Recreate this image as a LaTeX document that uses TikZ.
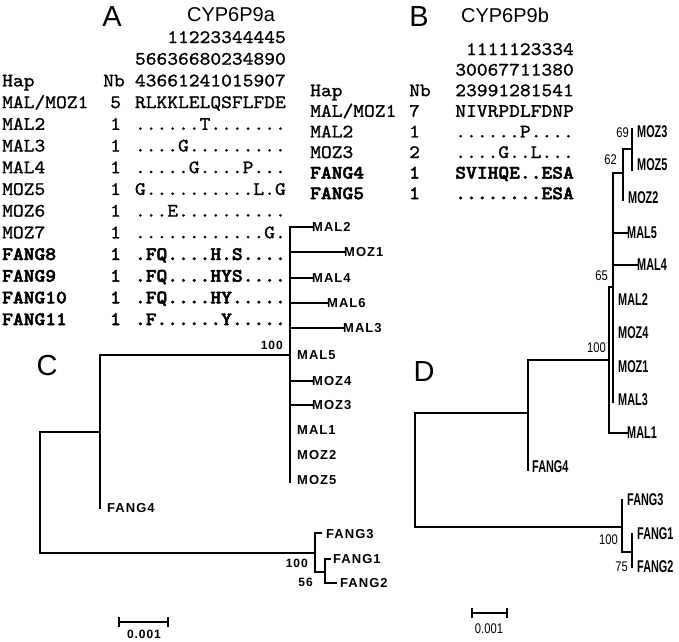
\documentclass[tikz,border=0pt]{standalone}
\usepackage{fontspec}
\setmainfont{Liberation Sans}
\newfontfamily\monof{lmmono10-regular.otf}[FakeStretch=1.08, UprightFeatures={FakeBold=1.1}, BoldFont=lmmonolt10-bold.otf, BoldFeatures={FakeBold=2.4}]
\newfontfamily\cfont[LetterSpace=8]{Liberation Sans}
\newfontfamily\dfont[FakeStretch=0.64]{Liberation Sans}
\newfontfamily\dnumfont[FakeStretch=0.8]{Liberation Sans}
\begin{document}
\begin{tikzpicture}[x=1pt,y=-1pt,
  seq/.style={font=\monof\fontsize{19}{19}\selectfont, anchor=base west, inner sep=0pt},
  seqr/.style={seq, anchor=base east},
  bseq/.style={seq, font=\monof\bfseries\fontsize{19}{19}\selectfont},
  bseqr/.style={bseq, anchor=base east},
  ttl/.style={font=\fontsize{29}{29}\selectfont, inner sep=0pt},
  gene/.style={font=\fontsize{20}{20}\selectfont, inner sep=0pt},
  cleaf/.style={font=\cfont\bfseries\fontsize{13}{13}\selectfont, anchor=west, inner sep=0pt},
  cboot/.style={font=\cfont\bfseries\fontsize{12}{12}\selectfont, anchor=east, inner sep=0pt},
  dleaf/.style={font=\dfont\bfseries\fontsize{17}{17}\selectfont, anchor=west, inner sep=0pt},
  dboot/.style={font=\dnumfont\fontsize{14}{14}\selectfont, anchor=east, inner sep=0pt},
  scl/.style={font=\dnumfont\fontsize{14}{14}\selectfont, inner sep=0pt},
  ctree/.style={line width=1.7pt, line cap=rect},
  dtree/.style={line width=1.4pt, line cap=rect},
  scalebar/.style={line width=1.4pt}
]
\useasboundingbox (0,0) rectangle (679,641);
\fill[white] (0,0) rectangle (679,641);

% ---------- Panel A ----------
\node[ttl] (tA) at (112,17) {A};
\node[gene] (gA) at (231,15) {CYP6P9a};
\node[seqr] (a0) at (286,43) {11223344445};
\node[seqr] (a1) at (286,64.7) {56636680234890};
\node[seq]  (h2) at (2,86.4) {Hap};
\node[seq]  (n2) at (103,86.4) {Nb};
\node[seqr] (a2) at (286,86.4) {43661241015907};
\node[seq]  (h3) at (2,108.1) {MAL/MOZ1};
\node[seq]  (n3) at (110,108.1) {5};
\node[seqr] (a3) at (286,108.1) {RLKKLELQSFLFDE};
\node[seq]  (h4) at (2,129.8) {MAL2};
\node[seq]  (n4) at (110,129.8) {1};
\node[seqr] (a4) at (286,129.8) {......T.......};
\node[seq]  (h5) at (2,151.5) {MAL3};
\node[seq]  (n5) at (110,151.5) {1};
\node[seqr] (a5) at (286,151.5) {....G.........};
\node[seq]  (h6) at (2,173.2) {MAL4};
\node[seq]  (n6) at (110,173.2) {1};
\node[seqr] (a6) at (286,173.2) {.....G....P...};
\node[seq]  (h7) at (2,194.9) {MOZ5};
\node[seq]  (n7) at (110,194.9) {1};
\node[seqr] (a7) at (286,194.9) {G..........L.G};
\node[seq]  (h8) at (2,216.6) {MOZ6};
\node[seq]  (n8) at (110,216.6) {1};
\node[seqr] (a8) at (286,216.6) {...E..........};
\node[seq]  (h9) at (2,238.3) {MOZ7};
\node[seq]  (n9) at (110,238.3) {1};
\node[seqr] (a9) at (286,238.3) {............G.};
\node[bseq]  (h10) at (2,260) {FANG8};
\node[bseq]  (n10) at (110,260) {1};
\node[bseqr] (a10) at (286,260) {.FQ....H.S....};
\node[bseq]  (h11) at (2,281.7) {FANG9};
\node[bseq]  (n11) at (110,281.7) {1};
\node[bseqr] (a11) at (286,281.7) {.FQ....HYS....};
\node[bseq]  (h12) at (2,303.4) {FANG10};
\node[bseq]  (n12) at (110,303.4) {1};
\node[bseqr] (a12) at (286,303.4) {.FQ....HY.....};
\node[bseq]  (h13) at (2,325.1) {FANG11};
\node[bseq]  (n13) at (110,325.1) {1};
\node[bseqr] (a13) at (286,325.1) {.F......Y.....};

% ---------- Panel B ----------
\node[ttl] (tB) at (419,17) {B};
\node[gene] (gB) at (505,15) {CYP6P9b};
\node[seqr] (b0) at (574,55) {1111123334};
\node[seqr] (b1) at (574,75.6) {30067711380};
\node[seq]  (bh2) at (310,96.2) {Hap};
\node[seq]  (bn2) at (409,96.2) {Nb};
\node[seqr] (b2) at (574,96.2) {23991281541};
\node[seq]  (bh3) at (310,116.8) {MAL/MOZ1};
\node[seq]  (bn3) at (409,116.8) {7};
\node[seqr] (b3) at (574,116.8) {NIVRPDLFDNP};
\node[seq]  (bh4) at (310,137.4) {MAL2};
\node[seq]  (bn4) at (409,137.4) {1};
\node[seqr] (b4) at (574,137.4) {......P....};
\node[seq]  (bh5) at (310,158) {MOZ3};
\node[seq]  (bn5) at (409,158) {2};
\node[seqr] (b5) at (574,158) {....G..L...};
\node[bseq]  (bh6) at (310,178.6) {FANG4};
\node[bseq]  (bn6) at (409,178.6) {1};
\node[bseqr] (b6) at (574,178.6) {SVIHQE..ESA};
\node[bseq]  (bh7) at (310,199.2) {FANG5};
\node[bseq]  (bn7) at (409,199.2) {1};
\node[bseqr] (b7) at (574,199.2) {........ESA};

% ---------- Panel C tree ----------
\node[ttl] (tC) at (47,366) {C};
\coordinate (cR) at (40,432);
\coordinate (cRb) at (40,553);
\coordinate (cA) at (100,432);
\coordinate (cAt) at (100,355);
\coordinate (cAb) at (100,508);
\coordinate (cM) at (290,355);
\coordinate (cMt) at (290,227);
\coordinate (cMb) at (290,482);
\coordinate (cF) at (315,553);
\coordinate (cFt) at (315,533);
\coordinate (cFb) at (315,572);
\coordinate (cG) at (325,572);
\coordinate (cGt) at (325,559);
\coordinate (cGb) at (325,583);

\node[cleaf] (cl1) at (312,227) {MAL2};
\node[cleaf] (cl2) at (344,252) {MOZ1};
\node[cleaf] (cl3) at (312,278) {MAL4};
\node[cleaf] (cl4) at (327,303) {MAL6};
\node[cleaf] (cl5) at (343,328) {MAL3};
\node[cleaf] (cl6) at (297,355) {MAL5};
\node[cleaf] (cl7) at (312,381) {MOZ4};
\node[cleaf] (cl8) at (312,405) {MOZ3};
\node[cleaf] (cl9) at (297,430) {MAL1};
\node[cleaf] (cl10) at (297,455) {MOZ2};
\node[cleaf] (cl11) at (297,480) {MOZ5};
\node[cleaf] (cl12) at (107,508) {FANG4};
\node[cleaf] (cl13) at (326,534) {FANG3};
\node[cleaf] (cl14) at (333,559) {FANG1};
\node[cleaf] (cl15) at (340,583) {FANG2};

\draw[ctree] (cRb) -- (cR) -- (cA);
\draw[ctree] (cAt) -- (cAb);
\draw[ctree] (cAt) -- (cM);
\draw[ctree] (cMt) -- (cMb);
\draw[ctree] (cMt) -- (cl1.west);
\draw[ctree] (290,252) -- (cl2.west);
\draw[ctree] (290,278) -- (cl3.west);
\draw[ctree] (290,303) -- (cl4.west);
\draw[ctree] (290,328) -- (cl5.west);
\draw[ctree] (290,381) -- (cl7.west);
\draw[ctree] (290,405) -- (cl8.west);
\draw[ctree] (cRb) -- (cF);
\draw[ctree] (cFt) -- (cFb);
\draw[ctree] (cFt) -- ++(6,0);
\draw[ctree] (cFb) -- (cG);
\draw[ctree] (cGt) -- (cGb);
\draw[ctree] (cGt) -- ++(5,0);
\draw[ctree] (cGb) -- ++(11,0);

\node[cboot] (cb1) at (283,345) {100};
\node[cboot] (cb2) at (308,563) {100};
\node[cboot] (cb3) at (313,582) {56};

\coordinate (cs1) at (119,622);
\coordinate (cs2) at (168,622);
\draw[scalebar] (cs1) -- (cs2);
\draw[scalebar] ([yshift=-5]cs1) -- ([yshift=5]cs1);
\draw[scalebar] ([yshift=-5]cs2) -- ([yshift=5]cs2);
\node[font=\cfont\bfseries\fontsize{12}{12}\selectfont, inner sep=0pt] (csl) at (144,634) {0.001};

% ---------- Panel D tree ----------
\node[ttl] (tD) at (424,372) {D};
\coordinate (dR) at (415,413);
\coordinate (dRb) at (415,527);
\coordinate (dU) at (528,413);
\coordinate (dUt) at (528,360);
\coordinate (dUb) at (528,470);
\coordinate (d100) at (609,360);
\coordinate (d100t) at (609,287);
\coordinate (d100b) at (609,433);
\coordinate (d65) at (613,287);
\coordinate (d65t) at (613,173);
\coordinate (d65b) at (613,402);
\coordinate (d62) at (623,173);
\coordinate (d62t) at (623,149);
\coordinate (d62b) at (623,200);
\coordinate (d69) at (632,149);
\coordinate (d69t) at (632,129);
\coordinate (d69b) at (632,170);
\coordinate (dF) at (622,527);
\coordinate (dFt) at (622,500);
\coordinate (dFb) at (622,552);
\coordinate (dG) at (632,552);
\coordinate (dGt) at (632,534);
\coordinate (dGb) at (632,567);

\node[dleaf] (dl1) at (637,132) {MOZ3};
\node[dleaf] (dl2) at (637,165) {MOZ5};
\node[dleaf] (dl3) at (628,198) {MOZ2};
\node[dleaf] (dl4) at (627,233) {MAL5};
\node[dleaf] (dl5) at (637,265) {MAL4};
\node[dleaf] (dl6) at (618,300) {MAL2};
\node[dleaf] (dl7) at (618,333) {MOZ4};
\node[dleaf] (dl8) at (618,367) {MOZ1};
\node[dleaf] (dl9) at (618,400) {MAL3};
\node[dleaf] (dl10) at (627,433) {MAL1};
\node[dleaf] (dl11) at (532,467) {FANG4};
\node[dleaf] (dl12) at (627,500) {FANG3};
\node[dleaf] (dl13) at (637,534) {FANG1};
\node[dleaf] (dl14) at (637,567) {FANG2};

\draw[dtree, line width=1.8pt] (dRb) -- (dR) -- (dU);
\draw[dtree, line width=1.8pt] (dRb) -- (dF);
\draw[dtree, line width=1.8pt] (dUt) -- (dUb);
\draw[dtree, line width=1.8pt] (dUt) -- (d100);
\draw[dtree] (d100t) -- (d100b);
\draw[dtree] (d100b) -- (dl10.west);
\draw[dtree] (d100t) -- (d65);
\draw[dtree] (d65t) -- (d65b);
\draw[dtree] (d65t) -- (d62);
\draw[dtree] (d62t) -- (d62b);
\draw[dtree] (d62t) -- (d69);
\draw[dtree] (d69t) -- (d69b);
\draw[dtree] (613,233) -- (dl4.west);
\draw[dtree] (613,265) -- (dl5.west);
\draw[dtree] (dFt) -- (dFb);
\draw[dtree] (dFb) -- (dG);
\draw[dtree] (dGt) -- (dGb);

\node[dboot] (db1) at (606,348) {100};
\node[dboot] (db2) at (608,276) {65};
\node[dboot] (db3) at (617,160) {62};
\node[dboot] (db4) at (629,133) {69};
\node[dboot] (db5) at (618,540) {100};
\node[dboot] (db6) at (628,567) {75};

\coordinate (ds1) at (472,613);
\coordinate (ds2) at (507,613);
\draw[scalebar] (ds1) -- (ds2);
\draw[scalebar] ([yshift=-5]ds1) -- ([yshift=5]ds1);
\draw[scalebar] ([yshift=-5]ds2) -- ([yshift=5]ds2);
\node[scl] (dsl) at (489,629) {0.001};
\end{tikzpicture}
\end{document}
